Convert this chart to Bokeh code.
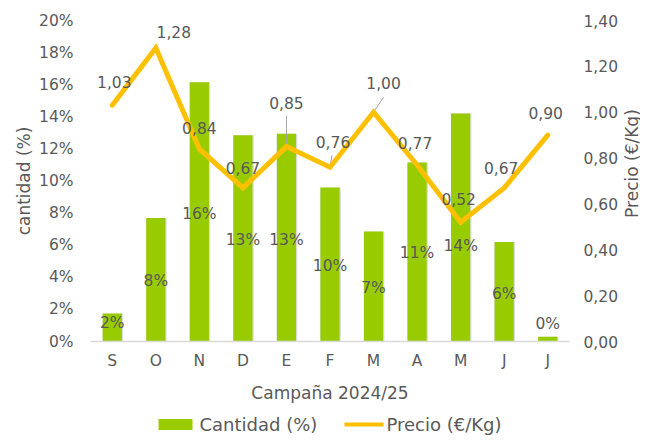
import math
from bokeh.plotting import figure
from bokeh.layouts import column, row
from bokeh.models import (ColumnDataSource, Range1d, LinearAxis, FixedTicker,
                          CustomJSTickFormatter)
from bokeh.core.properties import value
from bokeh.embed import file_html
from bokeh.resources import INLINE

# ---------------- data ----------------
months = ["S", "O", "N", "D", "E", "F", "M", "A", "M", "J", "J"]
cantidad = [1.75, 7.7, 16.15, 12.85, 12.95, 9.6, 6.85, 11.15, 14.2, 6.2, 0.3]
precio = [1.03, 1.28, 0.84, 0.67, 0.85, 0.76, 1.00, 0.77, 0.52, 0.67, 0.90]
cantidad_ticks = [0, 2, 4, 6, 8, 10, 12, 14, 16, 18, 20]
precio_ticks = [0.0, 0.2, 0.4, 0.6, 0.8, 1.0, 1.2, 1.4]
x_title = "Campaña 2024/25"
y_left_title = "cantidad (%)"
y_right_title = "Precio (€/Kg)"
serie_cantidad = "Cantidad (%)"
serie_precio = "Precio (€/Kg)"

# ---------------- label placement (pixels) ----------------
bar_lbl_dy = [-4, 1, 2, 2, 2, 2, 1, 1, 18, 2, -15]
price_lbl_dx = [2, 18, 0, 0, 0, 3, 10, -2, -2, -3, -2]
price_lbl_dy = [-23, -16, -21, -20, -44, -25, -29, -22, -23, -20, -22]
leader_idx = [4, 5, 6]
leader_px = [(0, -31), (2, -12), (10, -15)]

FONT = "DejaVu Sans"
TXT = "#595959"
GREEN = "#99CC00"
GOLD = "#FFC000"

TOTAL_W = 640
TW = 18                 # strip holding the right axis title
W, H = TOTAL_W - TW, 405
LEG_H = 30
FL, FR, FT, FB = 90, 53, 20, 64
frame_w = W - FL - FR
frame_h = H - FT - FB

xs = list(range(len(months)))

p = figure(width=W, height=H, output_backend="svg", toolbar_location=None,
           x_range=Range1d(-0.5, len(months) - 0.5),
           y_range=Range1d(cantidad_ticks[0], cantidad_ticks[-1]),
           min_border_left=FL, min_border_right=FR, min_border_top=FT,
           min_border_bottom=FB)
p.outline_line_color = None
p.grid.visible = False
p.extra_y_ranges = {"precio": Range1d(precio_ticks[0], precio_ticks[-1])}

bar_src = ColumnDataSource(dict(
    x=xs, top=cantidad, mid=[v / 2 for v in cantidad],
    xs_shadow=[x + 0.012 for x in xs],
    lbl=[f"{v:.0f}%" for v in cantidad], dy=bar_lbl_dy))

# soft shadow behind bars
p.vbar(x="xs_shadow", top="top", width=0.475, source=bar_src,
       fill_color="#9A9A9A", fill_alpha=0.35, line_color=None)
bars = p.vbar(x="x", top="top", width=0.44, source=bar_src,
              fill_color=GREEN, line_color=None)

p.text(x="x", y="mid", text="lbl", source=bar_src, y_offset="dy",
       text_align="center", text_baseline="middle",
       text_font=value(FONT), text_font_size="15.5px", text_color=TXT)

# leader lines for some price labels
sx = len(months) / frame_w
sy = (precio_ticks[-1] - precio_ticks[0]) / frame_h
lead_src = ColumnDataSource(dict(
    x0=[xs[i] for i in leader_idx],
    y0=[precio[i] for i in leader_idx],
    x1=[xs[i] + d[0] * sx for i, d in zip(leader_idx, leader_px)],
    y1=[precio[i] - d[1] * sy for i, d in zip(leader_idx, leader_px)]))
p.segment(x0="x0", y0="y0", x1="x1", y1="y1", source=lead_src,
          line_color="#A6A6A6", line_width=1, y_range_name="precio")

line_src = ColumnDataSource(dict(
    x=xs, y=precio,
    lbl=[f"{v:.2f}".replace(".", ",") for v in precio],
    dx=price_lbl_dx, dy=price_lbl_dy))
line = p.line(x="x", y="y", source=line_src, line_color=GOLD, line_width=5,
              line_cap="round", line_join="miter", y_range_name="precio")
p.text(x="x", y="y", text="lbl", source=line_src, x_offset="dx", y_offset="dy",
       y_range_name="precio", text_align="center", text_baseline="middle",
       text_font=value(FONT), text_font_size="15.5px", text_color=TXT)

# ---------------- axes ----------------
def style_axis(ax):
    ax.major_tick_line_color = None
    ax.minor_tick_line_color = None
    ax.major_tick_out = 0
    ax.major_tick_in = 0
    ax.major_label_text_color = TXT
    ax.major_label_text_font = FONT
    ax.major_label_text_font_size = "15.5px"
    ax.axis_label_text_color = TXT
    ax.axis_label_text_font = FONT
    ax.axis_label_text_font_size = "17px"
    ax.axis_label_text_font_style = "normal"

xax = p.xaxis[0]
style_axis(xax)
xax.ticker = FixedTicker(ticks=xs)
xax.formatter = CustomJSTickFormatter(args=dict(labels=months),
                                      code="return labels[Math.round(tick)] || '';")
xax.axis_line_color = "#D9D9D9"
xax.axis_line_width = 1.5
xax.major_label_standoff = 10
xax.axis_label = x_title
xax.axis_label_standoff = 10

yax = p.yaxis[0]
style_axis(yax)
yax.ticker = FixedTicker(ticks=cantidad_ticks)
yax.formatter = CustomJSTickFormatter(code="return tick.toFixed(0) + '%';")
yax.axis_line_color = None
yax.major_label_standoff = 17
yax.axis_label = y_left_title
yax.axis_label_standoff = 2

rax = LinearAxis(y_range_name="precio")
style_axis(rax)
rax.ticker = FixedTicker(ticks=precio_ticks)
rax.formatter = CustomJSTickFormatter(code="return tick.toFixed(2).replace('.', ',');")
rax.axis_line_color = None
rax.major_label_standoff = 14
p.add_layout(rax, "right")

# ---------------- right axis title (narrow strip, reads bottom-to-top) ------
tf = figure(width=TW, height=H, output_backend="svg", toolbar_location=None,
            x_range=Range1d(0, TW), y_range=Range1d(H, 0),
            x_axis_location=None, y_axis_location=None, min_border=0)
tf.outline_line_color = None
tf.grid.visible = False
tf.text(x=[TW / 2], y=[FT + frame_h / 2], text=[y_right_title], angle=math.pi / 2,
        text_align="center", text_baseline="middle",
        text_font=value(FONT), text_font_size="17px", text_color=TXT)

# ---------------- legend strip ----------------
lf = figure(width=TOTAL_W, height=LEG_H, output_backend="svg", toolbar_location=None,
            x_range=Range1d(0, TOTAL_W), y_range=Range1d(LEG_H, 0),
            x_axis_location=None, y_axis_location=None, min_border=0)
lf.outline_line_color = None
lf.grid.visible = False
leg_y = 19
lf.quad(left=[158], right=[192], top=[leg_y - 5.5], bottom=[leg_y + 5.5],
        fill_color=GREEN, line_color=None)
lf.text(x=[199], y=[leg_y], text=[serie_cantidad], text_align="left",
        text_baseline="middle", text_font=value(FONT), text_font_size="18px",
        text_color=TXT)
lf.segment(x0=[344], y0=[leg_y], x1=[383], y1=[leg_y], line_color=GOLD,
           line_width=4)
lf.text(x=[386], y=[leg_y], text=[serie_precio], text_align="left",
        text_baseline="middle", text_font=value(FONT), text_font_size="18px",
        text_color=TXT)

layout = column(row(p, tf, spacing=0), lf, spacing=0)
open("out.html", "w").write(file_html(layout, INLINE))
